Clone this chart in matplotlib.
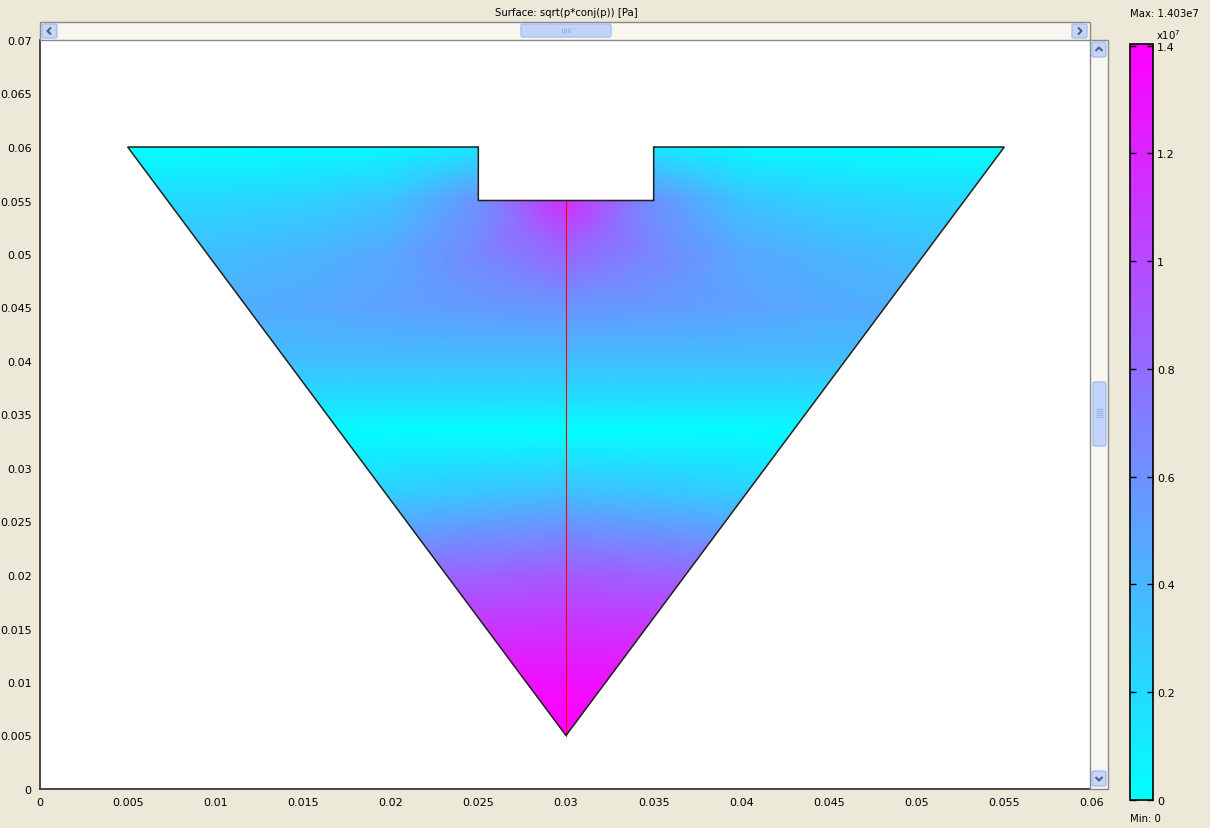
import numpy as np
import matplotlib
matplotlib.use("Agg")
import matplotlib.pyplot as plt
from matplotlib.patches import Polygon, Rectangle, FancyBboxPatch
from matplotlib.lines import Line2D

# ---------------- data ----------------
title = "Surface: sqrt(p*conj(p)) [Pa]"
p_max = 1.403e7
p_min = 0.0

# horn cross-section outline (m)
outline_x = [0.005, 0.025, 0.025, 0.035, 0.035, 0.055, 0.030]
outline_y = [0.060, 0.060, 0.055, 0.055, 0.060, 0.060, 0.005]

# symmetry boundary
axis_x = [0.030, 0.030]
axis_y = [0.005, 0.055]

# sampled pressure magnitude (x 1e7 Pa) on the left half, x = 0.005 ... 0.030
x_half = [0.005, 0.010, 0.015, 0.020, 0.025, 0.030]
y_nodes = [0.005, 0.010, 0.015, 0.020, 0.025, 0.0275, 0.0305, 0.0335,
           0.0365, 0.040, 0.045, 0.050, 0.055, 0.060]
p_half = np.array([
    [1.40, 1.40, 1.40, 1.40, 1.40, 1.40],
    [1.30, 1.30, 1.30, 1.30, 1.31, 1.32],
    [1.08, 1.08, 1.08, 1.09, 1.11, 1.13],
    [0.80, 0.80, 0.80, 0.82, 0.86, 0.90],
    [0.40, 0.40, 0.42, 0.46, 0.52, 0.56],
    [0.22, 0.22, 0.24, 0.28, 0.33, 0.37],
    [0.08, 0.08, 0.10, 0.14, 0.17, 0.19],
    [0.05, 0.05, 0.04, 0.02, 0.01, 0.00],
    [0.20, 0.20, 0.19, 0.19, 0.19, 0.19],
    [0.36, 0.36, 0.36, 0.36, 0.36, 0.36],
    [0.44, 0.45, 0.47, 0.51, 0.55, 0.58],
    [0.33, 0.36, 0.41, 0.48, 0.66, 0.84],
    [0.20, 0.22, 0.25, 0.33, 0.60, 1.15],
    [0.01, 0.01, 0.02, 0.04, 0.14, 1.25],
])

x_ticks = [0, 0.005, 0.01, 0.015, 0.02, 0.025, 0.03, 0.035, 0.04, 0.045, 0.05, 0.055, 0.06]
y_ticks = [0, 0.005, 0.01, 0.015, 0.02, 0.025, 0.03, 0.035, 0.04, 0.045, 0.05, 0.055, 0.06, 0.065, 0.07]
cb_ticks = [0, 0.2, 0.4, 0.6, 0.8, 1.0, 1.2, 1.4]   # x 1e7

# ---------------- layout helpers (pixel coordinates, origin top-left) ----------------
W, H = 1210, 829
BG = "#ECE9D8"
fig = plt.figure(figsize=(W / 100, H / 100), dpi=100, facecolor=BG)


def box(x0, y0, x1, y1):
    return [x0 / W, 1 - y1 / H, (x1 - x0) / W, (y1 - y0) / H]


def fpt(x, y):
    return x / W, 1 - y / H


def rect(x0, y0, x1, y1, fc, ec, lw=1.0, z=5, rounded=False):
    if rounded:
        p = FancyBboxPatch(fpt(x0, y1), (x1 - x0) / W, (y1 - y0) / H,
                           boxstyle="round,pad=0,rounding_size=0.002",
                           transform=fig.transFigure, facecolor=fc, edgecolor=ec,
                           linewidth=lw, zorder=z)
    else:
        p = Rectangle(fpt(x0, y1), (x1 - x0) / W, (y1 - y0) / H,
                      transform=fig.transFigure, facecolor=fc, edgecolor=ec,
                      linewidth=lw, zorder=z)
    fig.add_artist(p)


def polyline(pts, color, lw=1.5, z=7):
    xs = [p[0] / W for p in pts]
    ys = [1 - p[1] / H for p in pts]
    fig.add_artist(Line2D(xs, ys, transform=fig.transFigure, color=color,
                          linewidth=lw, zorder=z, solid_capstyle="butt"))


# ---------------- main plot ----------------
ax = fig.add_axes(box(40, 41, 1092, 790))
ax.set_facecolor("white")
ax.set_xlim(0, 0.06)
ax.set_ylim(0, 0.07)

x_nodes = list(x_half) + [0.060 - v for v in x_half[-2::-1]]
p_full = np.hstack([p_half, p_half[:, -2::-1]]) * 1e7

mesh = ax.pcolormesh(x_nodes, y_nodes, p_full, shading="gouraud", cmap="cool",
                     vmin=p_min, vmax=p_max, zorder=2)
domain = Polygon(np.column_stack([outline_x, outline_y]), closed=True,
                 facecolor="none", edgecolor="#202020", linewidth=1.1, zorder=4)
ax.add_patch(domain)
mesh.set_clip_path(domain)

ax.plot(axis_x, axis_y, color="#ff0000", linewidth=0.8, zorder=3)

ax.set_xticks(x_ticks)
ax.set_yticks(y_ticks)
ax.set_xticklabels(["%g" % v for v in x_ticks])
ax.set_yticklabels(["%g" % v for v in y_ticks])
ax.tick_params(length=0, labelsize=8, pad=6)
for s in ("top", "right"):
    ax.spines[s].set_visible(False)
for s in ("left", "bottom"):
    ax.spines[s].set_color("#3a3a3a")
    ax.spines[s].set_linewidth(1.3)

# ---------------- scrollbars ----------------
SB_FILL = "#F7F6F1"
SB_EDGE = "#8a8a8a"
BTN_FILL = "#C6D5F7"
BTN_EDGE = "#A9BEEA"
ARROW = "#4D6185"

# horizontal bar
rect(40, 23, 1090, 41, SB_FILL, SB_EDGE, lw=1.0)
rect(42, 25, 57, 39, BTN_FILL, BTN_EDGE, rounded=True, z=6)
rect(1072, 25, 1087, 39, BTN_FILL, BTN_EDGE, rounded=True, z=6)
rect(521, 25, 611, 38, "#C3D4FA", "#A8BFEF", rounded=True, z=6)
polyline([(51, 28.5), (47.5, 32), (51, 35.5)], ARROW)
polyline([(1078, 28.5), (1081.5, 32), (1078, 35.5)], ARROW)
for gx in (562, 564, 566, 568, 570):
    polyline([(gx, 29), (gx, 34)], "#9DB3E6", lw=0.8)

# vertical bar
rect(1090, 41, 1108, 790, SB_FILL, SB_EDGE, lw=1.0)
rect(1092, 43, 1106, 58, BTN_FILL, BTN_EDGE, rounded=True, z=6)
rect(1092, 772, 1106, 787, BTN_FILL, BTN_EDGE, rounded=True, z=6)
rect(1093, 383, 1106, 447, "#C3D4FA", "#A8BFEF", rounded=True, z=6)
polyline([(1095.5, 52), (1099, 48.5), (1102.5, 52)], ARROW)
polyline([(1095.5, 778), (1099, 781.5), (1102.5, 778)], ARROW)
for gy in (410, 412, 414, 416, 418):
    polyline([(1096, gy), (1103, gy)], "#9DB3E6", lw=0.8)

# ---------------- colour bar ----------------
cax = fig.add_axes(box(1130, 45, 1153, 801))
cb = fig.colorbar(mesh, cax=cax, ticks=[v * 1e7 for v in cb_ticks])
cb.outline.set_edgecolor("black")
cb.outline.set_linewidth(1.2)
cax.yaxis.set_ticks_position("both")
cax.set_yticklabels(["%g" % v for v in cb_ticks])
cax.tick_params(direction="in", length=4, width=1, labelsize=8,
                left=True, right=True, labelleft=False, labelright=True, pad=3)
cb.ax.yaxis.get_offset_text().set_visible(False)

# ---------------- texts ----------------
fig.text(*fpt(566, 13), title, ha="center", va="center", fontsize=7.3)
fig.text(*fpt(1164, 14), "Max: 1.403e7", ha="center", va="center", fontsize=7.3)
fig.text(*fpt(1130, 819), "Min: 0", ha="left", va="center", fontsize=7.3)
fig.text(*fpt(1156, 35), "x10$^7$", ha="left", va="center", fontsize=7.3)

fig.savefig("out.png", dpi=100, facecolor=BG)
